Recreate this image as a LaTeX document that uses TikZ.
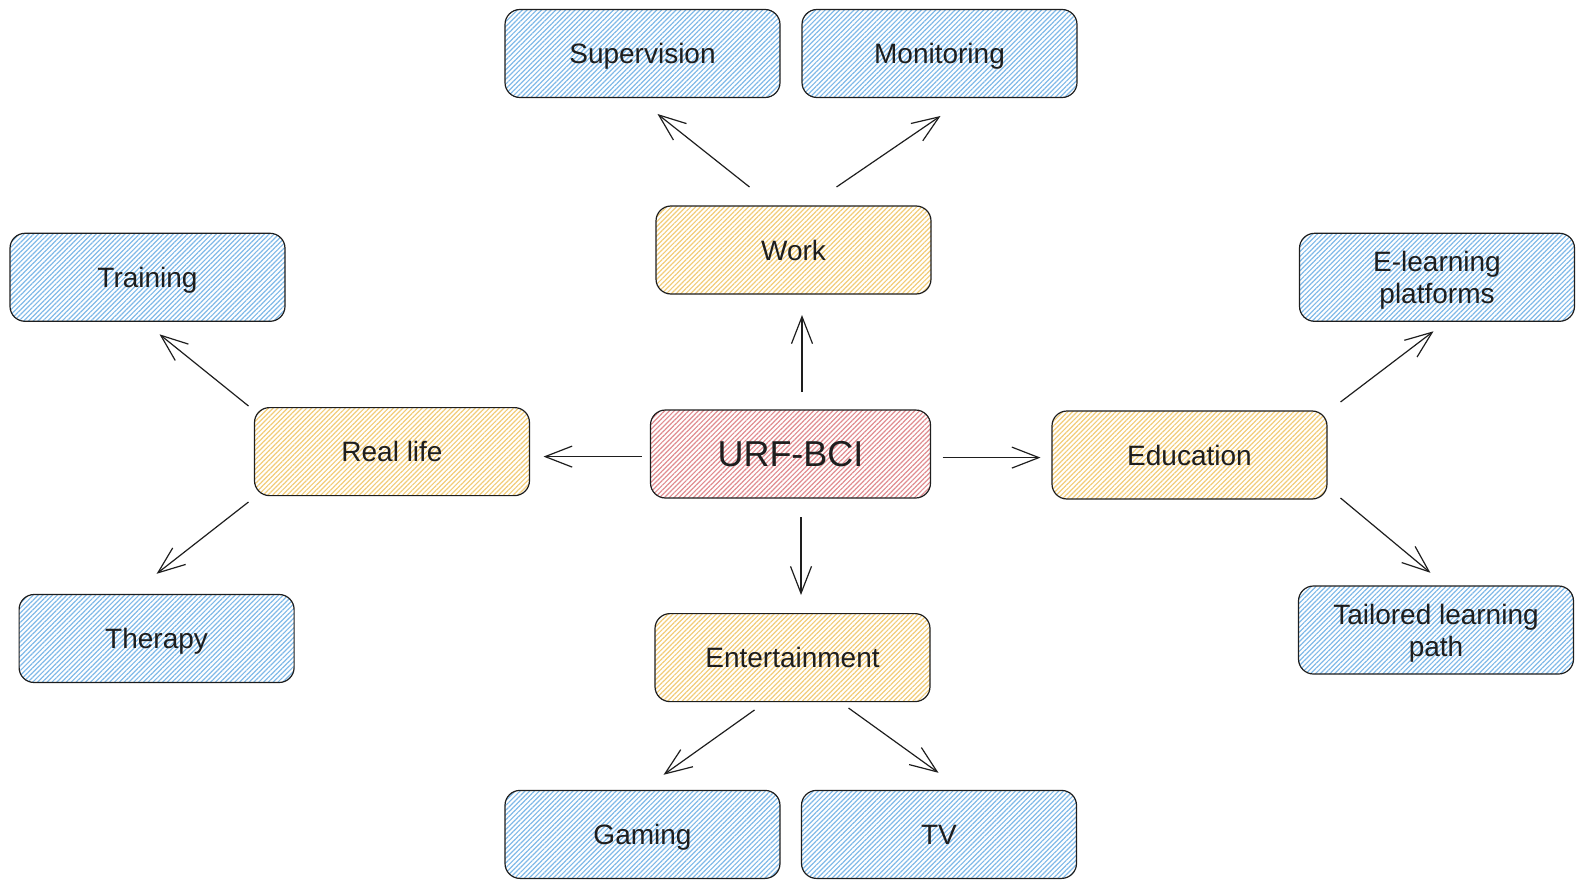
\documentclass[tikz,border=0pt]{standalone}
\usepackage{fontspec}
\setmainfont{Liberation Sans}
\usetikzlibrary{patterns.meta,arrows.meta}
\definecolor{ink}{HTML}{1E1E1E}
\definecolor{hblue}{HTML}{80B9E8}
\definecolor{hyellow}{HTML}{F2CC78}
\definecolor{hred}{HTML}{E08C90}
\tikzset{
  box/.style={rounded corners=15pt, draw=ink, line width=1.2pt, minimum width=275pt,
    minimum height=88pt, align=center, text=ink, outer sep=0pt, inner sep=4pt,
    text depth=0pt, font=\fontsize{28}{32.3}\selectfont},
  hatch/.style={pattern={Lines[angle=45,distance=3.4pt,line width=1.2pt]}, pattern color=#1},
  leaf/.style={box, hatch=hblue},
  mid/.style={box, hatch=hyellow},
  core/.style={box, hatch=hred, minimum width=280pt, font=\fontsize{36}{40}\selectfont},
  arr/.style={draw=ink, line width=1.2pt, -{Straight Barb[length=27pt,width=21pt,line width=1.2pt]}}
}
\begin{document}
\begin{tikzpicture}[x=1pt,y=-1pt]
\useasboundingbox (0,0) rectangle (1584,888);
\node[leaf] (sup) at (642.5,53.5) {Supervision};
\node[leaf] (mon) at (939.5,53.5) {Monitoring};
\node[mid] (work) at (793.5,250) {Work};
\node[leaf] (train) at (147.5,277.3) {Training};
\node[leaf] (elearn) at (1437,277.3) {E-learning\\platforms};
\node[mid] (real) at (392,451.6) {Real life};
\node[core] (urf) at (790.5,454) {URF-BCI};
\node[mid] (edu) at (1189.5,455) {Education};
\node[leaf] (ther) at (156.6,638.5) {Therapy};
\node[mid] (ent) at (792.5,657.6) {Entertainment};
\node[leaf] (tail) at (1436,630) {Tailored learning\\path};
\node[leaf] (gam) at (642.5,834.4) {Gaming};
\node[leaf] (tv) at (939,834.4) {TV};

\draw[arr] ([xshift=11.5pt,yshift=18pt]urf.north) -- ([xshift=8.5pt,yshift=-21pt]work.south);
\draw[arr] ([xshift=-9pt,yshift=-2.6pt]urf.west) -- ([xshift=14pt,yshift=-5pt]real.east);
\draw[arr] ([xshift=12pt,yshift=-3.6pt]urf.east) -- ([xshift=-11.5pt,yshift=-2.6pt]edu.west);
\draw[arr] ([xshift=10.5pt,yshift=-19pt]urf.south) -- ([xshift=8.5pt,yshift=18.6pt]ent.north);
\draw[arr] ([xshift=-44pt,yshift=19pt]work.north) -- ([xshift=15pt,yshift=-16.5pt]sup.south);
\draw[arr] ([xshift=43pt,yshift=19pt]work.north) -- ([xshift=1pt,yshift=-18.5pt]mon.south);
\draw[arr] ([xshift=-6pt,yshift=1.6pt]real.north west) -- ([xshift=12pt,yshift=-13pt]train.south);
\draw[arr] ([xshift=-6pt,yshift=-6.4pt]real.south west) -- ([xshift=0pt,yshift=20.7pt]ther.north);
\draw[arr] ([xshift=13.5pt,yshift=9pt]edu.north east) -- ([xshift=-3.5pt,yshift=-10pt]elearn.south);
\draw[arr] ([xshift=13.5pt,yshift=1pt]edu.south east) -- ([xshift=-5.6pt,yshift=13.2pt]tail.north);
\draw[arr] ([xshift=-38pt,yshift=-8.4pt]ent.south) -- ([xshift=21pt,yshift=15.6pt]gam.north);
\draw[arr] ([xshift=56pt,yshift=-6.4pt]ent.south) -- ([xshift=-0.5pt,yshift=17.6pt]tv.north);
\end{tikzpicture}
\end{document}
